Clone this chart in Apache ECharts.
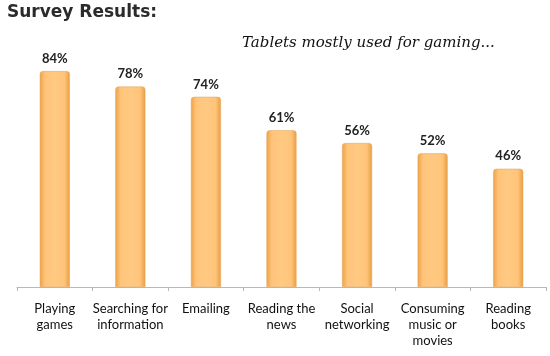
<!DOCTYPE html>
<html><head><meta charset="utf-8">
<script src="https://cdn.jsdelivr.net/npm/echarts@6/dist/echarts.min.js"></script>
<style>html,body{margin:0;padding:0;background:#fff}#c{width:550px;height:356px}</style>
</head><body><div id="c"></div>
<script>
const categories = ['Playing\ngames','Searching for\ninformation','Emailing','Reading the\nnews','Social\nnetworking','Consuming\nmusic or\nmovies','Reading\nbooks'];
const values = [84, 78, 74, 61, 56, 52, 46];
const titleText = 'Survey Results:';
const subtitleText = 'Tablets mostly used for gaming...';

const chart = echarts.init(document.getElementById('c'));
chart.setOption({
  animation: false,
  title: [
    {text: titleText, left: 2, top: -1, textStyle: {fontFamily: 'DejaVu Sans', fontWeight: 'bold', fontSize: 17, color: '#2b2b2b'}},
    {text: subtitleText, left: 237, top: 31, textStyle: {fontFamily: 'DejaVu Serif', fontStyle: 'italic', fontWeight: 'normal', fontSize: 15, color: '#111'}}
  ],
  grid: {left: 17, right: 4, top: 30, bottom: 69},
  xAxis: {
    type: 'category', data: categories,
    axisLine: {lineStyle: {color: '#b8b8b8'}},
    axisTick: {show: true, length: 4, lineStyle: {color: '#b8b8b8'}},
    axisLabel: {fontFamily: 'Lato', fontSize: 13, color: '#111', lineHeight: 16, margin: 14, interval: 0}
  },
  yAxis: {type: 'value', min: 0, max: 100, show: false, splitLine: {show: false}},
  series: [{
    type: 'bar', data: values, barWidth: 30,
    itemStyle: {
      color: new echarts.graphic.LinearGradient(0, 0, 1, 0, [
        {offset: 0, color: '#EDA346'},
        {offset: 0.18, color: '#FFC47A'},
        {offset: 0.5, color: '#FFC982'},
        {offset: 0.82, color: '#FFC47A'},
        {offset: 1, color: '#E99E40'}
      ]),
      borderColor: '#E3A25A', borderWidth: 0.5,
      borderRadius: [3, 3, 0, 0]
    },
    label: {show: true, position: 'top', distance: 6, formatter: '{c}%', fontFamily: 'Lato', fontWeight: 'bold', fontSize: 13, color: '#222'}
  }]
});
</script></body></html>
